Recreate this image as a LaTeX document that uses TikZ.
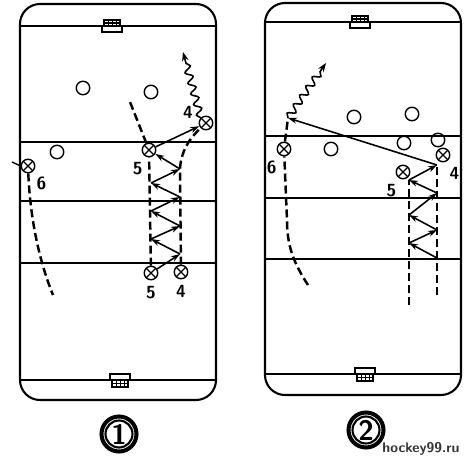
\documentclass[tikz,border=0pt]{standalone}
\usetikzlibrary{arrows.meta,decorations.pathmorphing}
\tikzset{
  rink/.style={line width=1.2pt, rounded corners=0.4cm},
  rinkline/.style={line width=0.75pt},
  player/.style={circle, draw, line width=0.8pt, minimum size=0.27cm, inner sep=0pt, fill=white,
    path picture={\draw[line width=0.7pt]
      (path picture bounding box.north west) -- (path picture bounding box.south east)
      (path picture bounding box.north east) -- (path picture bounding box.south west);}},
  opp/.style={circle, draw, line width=0.8pt, minimum size=0.27cm, inner sep=0pt},
  num/.style={font=\sffamily\bfseries\fontsize{10}{10}\selectfont, inner sep=0pt},
  tag/.style={label={[num, label distance=0.12cm]#1}},
  skate/.style={line width=1.4pt, dash pattern=on 0.16cm off 0.08cm},
  pass/.style={line width=0.9pt, -{Stealth[length=0.18cm, width=0.12cm]}},
  puck/.style={line width=0.9pt, -{Stealth[length=0.18cm, width=0.13cm]}, decorate,
    decoration={snake, amplitude=0.07cm, segment length=0.22cm, post length=0.14cm}},
  badge/.style={circle, draw, line width=2.3pt, minimum size=0.7cm, inner sep=0pt,
    font=\sffamily\bfseries\fontsize{16}{16}\selectfont},
}
\begin{document}
\begin{tikzpicture}[x=0.02cm, y=-0.02cm]
  \useasboundingbox (0,0) rectangle (474,463);

  % rinks
  \draw[rink] (20,4) rectangle (216,400);
  \draw[rink] (265,3) rectangle (461,395);
  \foreach \y in {26, 142, 201, 263, 380}
    \draw[rinkline] (20,\y) -- (216,\y);
  \foreach \y in {22, 136, 198, 259, 374}
    \draw[rinkline] (265,\y) -- (461,\y);

  % goals
  \foreach \gx/\gy in {112/26, 360/22} {
    \draw[line width=0.7pt, fill=white, shift={(\gx,\gy)}] (-10,0) rectangle (10,6);
    \draw[line width=0.7pt, shift={(\gx,\gy)}] (-8,-6) rectangle (8,0) (-8,-3) -- (8,-3);
    \foreach \i in {-4, 0, 4}
      \draw[line width=0.5pt, shift={(\gx,\gy)}] (\i,-6) -- (\i,0);
  }
  \foreach \gx/\gy in {120/380, 365/374} {
    \draw[line width=0.7pt, fill=white, shift={(\gx,\gy)}] (-10,-6) rectangle (10,0);
    \draw[line width=0.7pt, shift={(\gx,\gy)}] (-8,0) rectangle (8,7) (-8,3.5) -- (8,3.5);
    \foreach \i in {-4, 0, 4}
      \draw[line width=0.5pt, shift={(\gx,\gy)}] (\i,0) -- (\i,7);
  }

  % diagram 1
  \node[opp] (ao1) at (83,88) {};
  \node[opp] (ao2) at (151,92) {};
  \node[opp] (ao3) at (57,152) {};
  \node[player, tag=162:4] (a4) at (206,123) {};
  \node[player, tag=243:5] (a5) at (149,150) {};
  \node[player, tag=308:6] (a6) at (28,166) {};
  \node[player, tag=270:5] (a5s) at (151,273) {};
  \node[player, tag=270:4] (a4s) at (181,272) {};
  \coordinate (a6t) at (12,162);
  \coordinate (a6e) at (53,295);
  \coordinate (a5e) at (130,102);
  \coordinate (a4e) at (183,52);
  \coordinate (al1) at (151,239);
  \coordinate (al2) at (151,211);
  \coordinate (al3) at (151,183);
  \coordinate (ar1) at (180,254);
  \coordinate (ar2) at (180,226);
  \coordinate (ar3) at (180,197);
  \coordinate (ar4) at (180,169);

  \draw[line width=0.8pt] (a6.west) -- (a6t);
  \draw[skate] (a6) .. controls (30,215) and (38,258) .. (a6e);
  \draw[skate] (a5s) -- (a5);
  \draw[skate] (a5) -- (a5e);
  \draw[skate] (a4s) -- (ar4) .. controls (181,152) and (188,140) .. (a4);
  \draw[pass] (a5s) -- (ar1);
  \draw[pass] (ar1) -- (al1);
  \draw[pass] (al1) -- (ar2);
  \draw[pass] (ar2) -- (al2);
  \draw[pass] (al2) -- (ar3);
  \draw[pass] (ar3) -- (al3);
  \draw[pass] (al3) -- (ar4);
  \draw[pass] (ar4) -- (a5);
  \draw[pass] (a5) -- (a4);
  \draw[puck] (a4.north west) -- (a4e);

  % diagram 2
  \node[opp] (bo1) at (354,117) {};
  \node[opp] (bo2) at (412,114) {};
  \node[opp] (bo3) at (331,149) {};
  \node[opp] (bo4) at (404,143) {};
  \node[opp] (bo5) at (438,140) {};
  \node[player, tag=238:6] (b6) at (284,149) {};
  \node[player, tag=298:4] (b4) at (443,155) {};
  \node[player, tag=242:5] (b5) at (403,172) {};
  \coordinate (b6s) at (308,285);
  \coordinate (b6m) at (287,220);
  \coordinate (b6r) at (288,118);
  \coordinate (b6e) at (326,63);
  \coordinate (b5s) at (409,305);
  \coordinate (b4s) at (437,295);
  \coordinate (bl1) at (409,243);
  \coordinate (bl2) at (409,215);
  \coordinate (bl3) at (409,180);
  \coordinate (br0) at (437,258);
  \coordinate (br1) at (437,230);
  \coordinate (br2) at (437,193);
  \coordinate (br3) at (437,165);

  \draw[skate] (b6s) .. controls (293,262) and (287,245) .. (b6m) -- (b6);
  \draw[skate] (b6) -- (b6r);
  \draw[skate] (b5s) -- (bl3);
  \draw[skate] (b4s) -- (br3);
  \draw[pass] (br0) -- (bl1);
  \draw[pass] (bl1) -- (br1);
  \draw[pass] (br1) -- (bl2);
  \draw[pass] (bl2) -- (br2);
  \draw[pass] (br2) -- (bl3);
  \draw[pass] (bl3) -- (br3);
  \draw[pass] (br3) -- (b6r);
  \draw[puck] (b6r) -- (b6e);

  % numbers
  \node[badge] (n1) at (119,434) {1};
  \draw[line width=1.2pt] (n1.center) circle (0.27cm);
  \node[badge] (n2) at (366,430) {2};
  \draw[line width=1.2pt] (n2.center) circle (0.27cm);
  \node[font=\sffamily\bfseries\fontsize{8}{8}\selectfont, text=black!80] (wm) at (421,449) {hockey99.ru};
\end{tikzpicture}
\end{document}
